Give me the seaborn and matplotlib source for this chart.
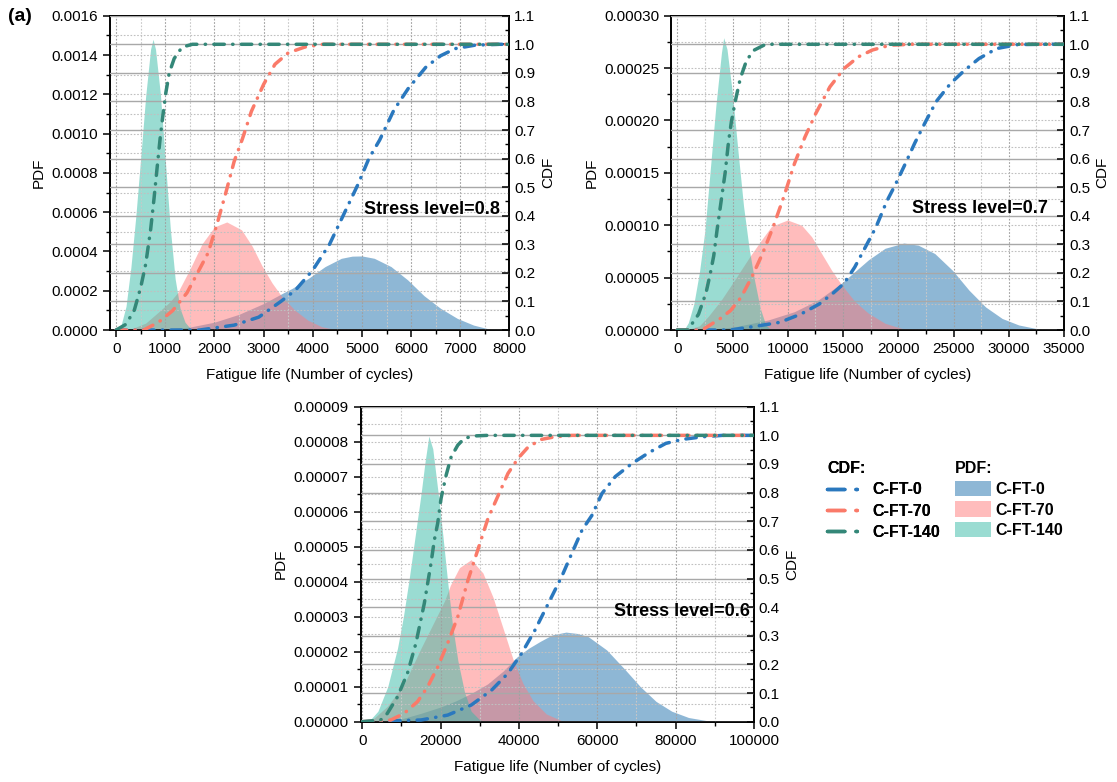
import matplotlib
matplotlib.use("Agg")
import matplotlib.pyplot as plt
import seaborn as sns
from matplotlib.lines import Line2D
from matplotlib.patches import Patch
from matplotlib.ticker import MultipleLocator, FormatStrFormatter

sns.set_theme(style="ticks")
plt.rcParams['font.family'] = ['Liberation Sans', 'DejaVu Sans']
plt.rcParams['text.color'] = 'black'
plt.rcParams['axes.labelcolor'] = 'black'
plt.rcParams['xtick.color'] = 'black'
plt.rcParams['ytick.color'] = 'black'

series_names = ["C-FT-0", "C-FT-70", "C-FT-140"]
panel_titles = ["Stress level=0.8", "Stress level=0.7", "Stress level=0.6"]

# ---------------- Stress level 0.8 ----------------
s08_pdf0_x = [600, 1000, 1500, 2000, 2500, 3000, 3370, 3580, 3910, 4250, 4580, 4800, 5000, 5250, 5590, 5930, 6260, 6600, 6940, 7270, 7540, 7700]
s08_pdf0_y = [0, 0.04, 0.15, 0.4, 0.8, 1.35, 1.85, 2.12, 2.63, 3.23, 3.65, 3.76, 3.77, 3.65, 3.23, 2.55, 1.75, 1.10, 0.59, 0.25, 0.08, 0]
s08_pdf70_x = [0, 300, 600, 900, 1100, 1250, 1500, 1750, 2000, 2250, 2550, 2770, 2970, 3170, 3370, 3640, 3900, 4180, 4450, 4700]
s08_pdf70_y = [0, 0.05, 0.35, 1.0, 1.45, 1.9, 3.1, 4.4, 5.25, 5.5, 5.1, 4.25, 3.25, 2.4, 1.7, 1.0, 0.5, 0.17, 0.03, 0]
s08_pdf140_x = [0, 100, 200, 300, 400, 500, 600, 700, 750, 800, 900, 1000, 1100, 1200, 1300, 1400, 1500, 1600]
s08_pdf140_y = [0, 0.25, 1.2, 3.2, 5.8, 8.8, 11.9, 14.3, 14.8, 14.3, 12.0, 8.6, 5.2, 2.6, 1.1, 0.4, 0.1, 0]
s08_cdf0_x = [0, 1700, 2400, 2900, 3350, 3650, 4000, 4340, 4630, 4920, 5140, 5360, 5650, 5940, 6300, 6600, 6900, 7300, 7800, 8000]
s08_cdf0_y = [0, 0, 0.017, 0.045, 0.10, 0.14, 0.21, 0.30, 0.405, 0.51, 0.60, 0.665, 0.77, 0.845, 0.92, 0.96, 0.985, 0.997, 1.0, 1.0]
s08_cdf70_x = [0, 560, 860, 1150, 1440, 1650, 1870, 2050, 2230, 2400, 2570, 2750, 3000, 3230, 3500, 3830, 4200, 8000]
s08_cdf70_y = [0, 0.0, 0.027, 0.068, 0.13, 0.198, 0.27, 0.37, 0.48, 0.59, 0.67, 0.765, 0.86, 0.93, 0.97, 0.99, 1.0, 1.0]
s08_cdf140_x = [0, 200, 370, 500, 600, 700, 770, 840, 900, 950, 1010, 1080, 1180, 1340, 1550, 8000]
s08_cdf140_y = [0, 0.02, 0.07, 0.15, 0.23, 0.35, 0.46, 0.58, 0.68, 0.75, 0.83, 0.90, 0.95, 0.99, 1.0, 1.0]

# ---------------- Stress level 0.7 ----------------
s07_pdf0_x = [2000, 5200, 8200, 10600, 12800, 14900, 16100, 17300, 18800, 20500, 21800, 23300, 24900, 26400, 27900, 29400, 30900, 32400, 33300]
s07_pdf0_y = [0, 0.3, 0.95, 1.75, 2.9, 4.5, 5.6, 6.7, 7.8, 8.3, 8.1, 7.3, 5.7, 3.8, 2.2, 1.1, 0.48, 0.16, 0]
s07_pdf70_x = [0, 1000, 2000, 2800, 4000, 5200, 6560, 7620, 8530, 9980, 11250, 12160, 13060, 13970, 14880, 16090, 17300, 18800, 20300, 21500]
s07_pdf70_y = [0, 0.05, 0.4, 1.3, 2.9, 4.8, 7.0, 8.6, 9.9, 10.5, 10.0, 8.9, 7.3, 5.7, 4.3, 2.7, 1.6, 0.64, 0.16, 0]
s07_pdf140_x = [0, 600, 1000, 1500, 2000, 2500, 3000, 3500, 4000, 4200, 4500, 5000, 5500, 6000, 6500, 7000, 7500, 8000, 8500]
s07_pdf140_y = [0, 0, 0.7, 2.5, 5.5, 9.5, 15.5, 21.5, 26.5, 27.9, 26.8, 22.5, 17.0, 11.8, 7.8, 4.7, 2.1, 0.5, 0]
s07_cdf0_x = [0, 4800, 7400, 9300, 11200, 12850, 14130, 15090, 16060, 17020, 17980, 18950, 19750, 20550, 21500, 22480, 23440, 24730, 26000, 27300, 28900, 30800, 32800, 35000]
s07_cdf0_y = [0, 0, 0.015, 0.027, 0.056, 0.091, 0.13, 0.163, 0.22, 0.29, 0.36, 0.45, 0.51, 0.575, 0.655, 0.73, 0.80, 0.863, 0.909, 0.95, 0.985, 0.999, 1.0, 1.0]
s07_cdf70_x = [0, 2250, 3850, 4820, 5780, 6740, 7710, 8670, 9630, 10600, 11560, 12520, 13810, 15090, 16380, 17660, 19270, 21200, 35000]
s07_cdf70_y = [0, 0, 0.039, 0.068, 0.115, 0.185, 0.267, 0.36, 0.465, 0.582, 0.676, 0.757, 0.851, 0.915, 0.956, 0.98, 0.997, 1.0, 1.0]
s07_cdf140_x = [0, 950, 1920, 2600, 3000, 3300, 3600, 4000, 4330, 4640, 4900, 5300, 5700, 6280, 6980, 8000, 35000]
s07_cdf140_y = [0, 0, 0.055, 0.13, 0.20, 0.26, 0.35, 0.46, 0.55, 0.66, 0.73, 0.81, 0.88, 0.945, 0.98, 1.0, 1.0]

# ---------------- Stress level 0.6 ----------------
s06_pdf0_x = [5000, 10000, 15000, 20000, 24000, 28000, 32000, 36000, 39500, 42500, 45500, 48500, 52000, 55000, 57700, 62400, 67000, 71000, 75000, 79000, 83300, 88000, 92000]
s06_pdf0_y = [0, 0.08, 0.24, 0.42, 0.6, 0.82, 1.08, 1.45, 1.85, 2.1, 2.3, 2.48, 2.56, 2.52, 2.43, 2.05, 1.5, 1.0, 0.58, 0.3, 0.12, 0.03, 0]
s06_pdf70_x = [0, 3000, 6500, 10800, 15000, 17000, 19000, 21000, 22500, 24800, 27800, 30800, 33400, 36000, 38500, 41000, 43600, 47000, 50900, 53000]
s06_pdf70_y = [0, 0.1, 0.45, 1.1, 2.1, 2.55, 3.0, 3.45, 3.9, 4.4, 4.63, 4.25, 3.55, 2.65, 1.78, 1.1, 0.6, 0.22, 0.03, 0]
s06_pdf140_x = [0, 2000, 4000, 6500, 9000, 10500, 12000, 13500, 15000, 16000, 17000, 18000, 19300, 20600, 21800, 23000, 24400, 26100, 27800, 30000, 32000]
s06_pdf140_y = [0, 0.05, 0.3, 1.0, 2.1, 3.0, 4.1, 5.3, 6.5, 7.4, 8.16, 7.8, 6.6, 5.3, 4.0, 2.8, 1.75, 0.85, 0.3, 0.05, 0]
s06_cdf0_x = [0, 15000, 21800, 27800, 33000, 37200, 40700, 44100, 47500, 50900, 53500, 56100, 58600, 61200, 64600, 68900, 73200, 77500, 81800, 86900, 92000, 100000]
s06_cdf0_y = [0, 0.006, 0.023, 0.058, 0.11, 0.169, 0.239, 0.32, 0.413, 0.506, 0.588, 0.669, 0.72, 0.797, 0.856, 0.902, 0.94, 0.972, 0.986, 0.995, 1.0, 1.0]
s06_cdf70_x = [0, 7300, 10700, 14100, 16700, 19300, 21800, 24400, 27000, 29500, 32100, 34700, 37200, 39800, 42400, 45800, 49200, 53500, 100000]
s06_cdf70_y = [0, 0.006, 0.029, 0.07, 0.122, 0.192, 0.274, 0.367, 0.495, 0.6, 0.71, 0.79, 0.867, 0.92, 0.96, 0.986, 0.995, 1.0, 1.0]
s06_cdf140_x = [0, 4700, 6400, 9000, 11560, 13700, 15840, 17550, 18400, 19260, 20120, 21400, 22700, 24400, 26100, 28700, 32000, 100000]
s06_cdf140_y = [0, 0.006, 0.029, 0.087, 0.17, 0.274, 0.413, 0.553, 0.634, 0.693, 0.78, 0.86, 0.925, 0.966, 0.99, 0.998, 1.0, 1.0]

# ---------------- styling ----------------
line_colors = ["#2a78be", "#fa7a69", "#348778"]
fill_colors = ["#1f70ad", "#ff7b7b", "#37bba7"]
fill_alpha = 0.5
dash = (0, (3.0, 2.4, 0.1, 2.4))
legend_dash = (0, (5.0, 3.2, 0.4, 12))
LW = 2.5

fig = plt.figure(figsize=(11.17, 7.82), dpi=100)

panels = [
    dict(rect=[0.0985, 0.578, 0.3576, 0.4019], xlim=(-125, 8000), xmaj=1000, xmin=500,
         ymax=0.0016, ymaj=0.0002, ymin=0.0001, yfmt='%.4f', scale=1e-4,
         pdf=[(s08_pdf0_x, s08_pdf0_y), (s08_pdf70_x, s08_pdf70_y), (s08_pdf140_x, s08_pdf140_y)],
         cdf=[(s08_cdf0_x, s08_cdf0_y), (s08_cdf70_x, s08_cdf70_y), (s08_cdf140_x, s08_cdf140_y)],
         title=panel_titles[0], tpos=(0.976, 0.382)),
    dict(rect=[0.6009, 0.578, 0.3517, 0.4019], xlim=(-550, 35000), xmaj=5000, xmin=2500,
         ymax=0.00030, ymaj=0.00005, ymin=0.000025, yfmt='%.5f', scale=1e-5,
         pdf=[(s07_pdf0_x, s07_pdf0_y), (s07_pdf70_x, s07_pdf70_y), (s07_pdf140_x, s07_pdf140_y)],
         cdf=[(s07_cdf0_x, s07_cdf0_y), (s07_cdf70_x, s07_cdf70_y), (s07_cdf140_x, s07_cdf140_y)],
         title=panel_titles[1], tpos=(0.958, 0.388)),
    dict(rect=[0.3229, 0.0771, 0.3521, 0.4028], xlim=(-400, 100000), xmaj=20000, xmin=10000,
         ymax=0.00009, ymaj=0.00001, ymin=0.000005, yfmt='%.5f', scale=1e-5,
         pdf=[(s06_pdf0_x, s06_pdf0_y), (s06_pdf70_x, s06_pdf70_y), (s06_pdf140_x, s06_pdf140_y)],
         cdf=[(s06_cdf0_x, s06_cdf0_y), (s06_cdf70_x, s06_cdf70_y), (s06_cdf140_x, s06_cdf140_y)],
         title=panel_titles[2], tpos=(0.99, 0.35)),
]

FS = 11
for p in panels:
    ax = fig.add_axes(p['rect'])
    for (xs, ys), fc in zip(p['pdf'], fill_colors):
        ax.fill_between(xs, [v * p['scale'] for v in ys], 0, color=fc, alpha=fill_alpha, lw=0, zorder=1)
    ax.set_xlim(*p['xlim'])
    ax.set_ylim(0, p['ymax'])
    ax.xaxis.set_major_locator(MultipleLocator(p['xmaj']))
    ax.xaxis.set_minor_locator(MultipleLocator(p['xmin']))
    ax.yaxis.set_major_locator(MultipleLocator(p['ymaj']))
    ax.yaxis.set_minor_locator(MultipleLocator(p['ymin']))
    ax.yaxis.set_major_formatter(FormatStrFormatter(p['yfmt']))
    ax.xaxis.set_major_formatter(FormatStrFormatter('%d'))
    ax.set_axisbelow(False)
    ax.grid(which='major', axis='x', ls=(0, (1.5, 1.5)), color='#a0a0a0', lw=0.8, zorder=1.5)
    ax.grid(which='minor', axis='x', ls=(0, (1.5, 1.5)), color='#c8c8c8', lw=0.8, zorder=1.5)
    ax.grid(which='both', axis='y', ls=(0, (1.5, 1.5)), color='#c0c0c0', lw=0.8, zorder=1.5)
    ax.tick_params(axis='both', which='major', direction='out', length=5, width=1.1,
                   labelsize=FS, colors='black', bottom=True, left=True, top=False, right=False)
    ax.tick_params(axis='both', which='minor', direction='out', length=3, width=1.0,
                   bottom=True, left=True, top=False, right=False)
    ax.set_ylabel("PDF", fontsize=FS, labelpad=4)
    ax.set_xlabel("Fatigue life (Number of cycles)", fontsize=FS, labelpad=9)

    ax2 = ax.twinx()
    ax2.set_ylim(0, 1.1)
    ax2.yaxis.set_major_locator(MultipleLocator(0.1))
    ax2.yaxis.set_minor_locator(MultipleLocator(0.05))
    ax2.yaxis.set_major_formatter(FormatStrFormatter('%.1f'))
    ax2.set_axisbelow(False)
    ax2.grid(which='major', axis='y', ls='-', color='#a8a8a8', lw=1.0, zorder=1.6)
    for (xs, ys), lc in zip(p['cdf'], line_colors):
        sns.lineplot(x=xs, y=ys, ax=ax2, color=lc, lw=LW, linestyle=dash,
                     dash_capstyle='round', sort=False, estimator=None, zorder=3)
    ax2.set_xlim(*p['xlim'])
    ax2.tick_params(axis='y', which='major', direction='in', length=5, width=1.1,
                    labelsize=FS, right=True, left=False, colors='black')
    ax2.tick_params(axis='y', which='minor', direction='in', length=3, width=1.0,
                    right=True, left=False)
    ax2.set_ylabel("CDF", fontsize=FS, labelpad=4)
    for a in (ax, ax2):
        for s in a.spines.values():
            s.set_color('black')
            s.set_linewidth(1.2)
    ax2.text(p['tpos'][0], p['tpos'][1], p['title'], transform=ax2.transAxes,
             ha='right', va='center', fontsize=13, fontweight='bold', color='black', zorder=5)

fig.text(0.007, 0.979, "(a)", fontsize=14, fontweight='bold', ha='left', va='center')

cdf_handles = [Line2D([], [], color=c, lw=LW, linestyle=legend_dash, dash_capstyle='round') for c in line_colors]
pdf_handles = [Patch(facecolor=c, alpha=fill_alpha, edgecolor='none') for c in fill_colors]
LFS = 11.5
leg_kw = dict(frameon=False, loc='upper left', prop={'weight': 'bold', 'size': LFS},
              title_fontproperties={'weight': 'bold', 'size': LFS}, alignment='left',
              borderpad=0, borderaxespad=0)
leg1 = fig.legend(cdf_handles, series_names, title="CDF:", bbox_to_anchor=(0.7405, 0.41),
                  handlelength=2.1, handletextpad=0.75, labelspacing=0.38, **leg_kw)
fig.add_artist(leg1)
leg2 = fig.legend(pdf_handles, series_names, title="PDF:", bbox_to_anchor=(0.855, 0.41),
                  handlelength=2.25, handleheight=1.1, handletextpad=0.3, labelspacing=0.28, **leg_kw)

fig.savefig("out.png", dpi=100)
